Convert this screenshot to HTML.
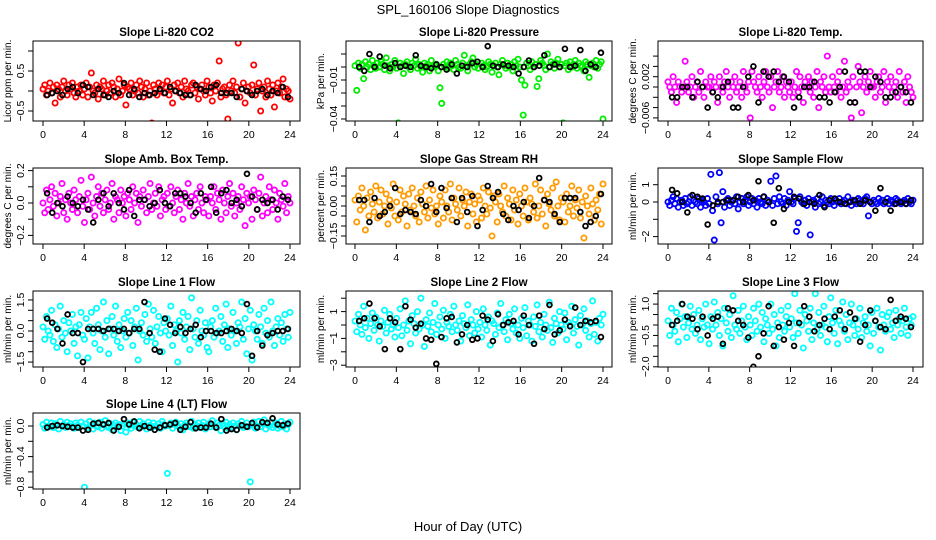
<!DOCTYPE html>
<html><head><meta charset="utf-8"><style>
html,body{margin:0;padding:0;background:#fff;}
svg{display:block;font-family:"Liberation Sans",sans-serif;}
</style></head><body>
<svg id="chart" width="936" height="540" viewBox="0 0 936 540" xmlns="http://www.w3.org/2000/svg">
<rect x="0" y="0" width="936" height="540" fill="#fff"/>
<text x="468" y="14" text-anchor="middle" font-size="13">SPL_160106  Slope Diagnostics</text>
<text x="468" y="531" text-anchor="middle" font-size="13">Hour of Day (UTC)</text>
</svg>
<script>
const xTicks = [0,4,8,12,16,20,24];
const co2Values = [1,3,-2,0,4,-1,2,-6,3,1,-3,2,5,0,-2,3,1,4,-1,-3,2,0,3,-2,
1,4,-3,2,9,0,-1,3,-4,2,1,5,-2,0,3,-1,4,2,-3,1,6,-2,0,3,
-7,2,1,4,-2,0,3,-1,5,2,-3,1,4,-2,0,-16,3,1,-2,4,0,3,-1,2,
5,-2,1,-6,3,0,4,-1,2,-3,5,1,0,-2,3,4,-1,2,-4,1,3,0,-2,5,
2,-1,-5,3,0,4,15,-3,1,2,-2,-14,3,0,5,-1,2,24,-3,1,4,-6,0,2,
-1,3,13,-2,1,4,-10,0,2,-3,5,1,-2,3,-8,0,4,-1,2,6,-3,1,0,-4];
const co2Black = [-2,-1,0,-2,1,2,-1,3,2,-2,1,-2,-3,0,-1,4,-2,1,-3,-1,-2,-1,1,-1,2,0,-1,-2,-2,3,1,0,2,3,-1,-1,-1,-3,1,0,-2,0,1,-2,0,-1,2,-3];
const presValues = [1,-18,3,-1,2,-9,4,0,2,-2,5,1,-1,3,0,4,2,-2,7,1,-3,2,0,5,
-1,-43,3,1,-5,2,4,0,-2,3,1,6,-1,2,0,-4,3,1,2,-3,5,0,1,2,
-3,-16,-28,2,0,4,-1,3,1,-2,5,2,0,-1,3,9,1,-3,2,4,7,0,2,-1,
-47,3,1,-2,0,4,2,-4,1,3,0,-6,2,5,1,-1,3,0,2,-3,4,1,6,0,
-10,-37,-14,3,1,-2,4,0,2,-15,-9,5,3,1,-2,10,0,4,2,-1,3,6,0,2,
-43,1,3,-2,4,0,2,5,-1,3,1,0,-3,4,2,-8,1,3,0,5,-1,2,4,-40];
const presBlack = [0,-3,10,0,8,1,-1,3,0,1,0,9,1,0,-1,2,0,-2,2,-5,1,0,3,4,0,16,1,0,2,1,0,-5,0,5,0,1,9,0,2,0,14,0,1,13,-3,2,0,11];
const tempValues = [1,0,-1,2,0,-3,1,0,-1,0,5,1,-1,0,2,-2,0,1,-1,3,0,-2,1,0,
0,2,-1,1,0,-3,2,0,-1,1,3,0,-2,1,0,2,-1,0,1,-2,3,0,-1,1,
-6,3,1,0,-1,2,0,-2,1,3,0,-1,2,-4,0,1,3,-1,0,2,-2,1,0,-1,
1,-2,0,3,-1,2,0,-3,1,0,2,-1,1,-2,0,3,-4,1,0,2,-1,6,0,-1,
2,0,-1,1,3,-2,0,5,-1,1,0,-6,2,-3,0,4,1,-5,0,2,-1,1,3,0,
0,-2,1,2,-1,0,3,-3,1,0,2,-1,0,1,-2,3,0,-1,1,-3,2,0,-1,-2];
const tempBlack = [-2,-2,0,0,-2,1,0,-4,-1,-2,0,1,-4,-4,0,2,4,-3,3,2,3,1,2,1,-4,-2,0,0,1,-2,-2,-3,-1,0,3,-3,-3,3,3,0,2,1,-2,-2,-1,0,-1,-3];
const ambValues = [0,-3,4,-2,1,5,-1,3,-4,0,2,6,-3,1,-5,3,0,-2,4,1,-3,2,7,-1,
-6,1,3,-2,8,0,-4,2,5,-1,3,-3,1,4,-2,0,6,-5,2,1,-3,4,0,2,
-4,3,1,-2,5,0,3,-6,2,-1,4,1,-3,2,6,-2,0,3,-1,5,-4,1,2,-2,
3,-1,5,0,-3,2,4,-2,1,-5,3,0,6,-1,2,-4,1,3,-2,5,0,-3,2,1,
-4,2,0,5,-2,3,1,-5,4,0,-3,2,6,-1,3,-4,0,2,-2,5,1,-7,3,0,
2,-5,4,1,-2,3,8,-4,0,2,-3,5,1,-2,4,0,-5,3,1,-1,6,-3,2,0];
const ambBlack = [3,-3,0,-1,2,0,-1,1,-2,-6,1,3,-1,3,0,-2,4,-4,1,1,-1,0,4,0,-1,3,3,2,0,-3,3,1,5,-3,3,4,0,1,-1,9,2,-2,1,0,1,-2,2,1];
const rhValues = [3,-8,5,-2,9,0,-12,4,-5,7,1,-3,10,-6,2,8,-4,0,6,-9,3,-1,11,-5,
2,-7,8,-3,5,1,-10,6,-2,9,0,-5,4,-8,7,1,-3,10,-6,3,-1,8,-4,0,
-9,5,2,-6,8,0,-3,11,-7,4,1,-2,9,-5,3,0,7,-10,2,6,-4,1,-8,5,
3,-6,9,0,-4,7,-1,-15,5,2,-8,6,0,-3,10,-5,4,1,-7,8,-2,3,-9,6,
0,-5,9,2,-7,4,1,-3,11,-6,0,8,-4,3,-10,6,1,-2,9,-5,12,0,-7,4,
2,-8,6,-3,0,10,-5,3,-1,8,-6,2,-16,5,0,-4,9,1,-7,3,-2,6,-9,11];
const rhBlack = [3,3,-8,4,-5,-3,0,9,-4,-2,-3,-4,3,0,11,-3,9,-1,4,-8,4,-3,5,-10,-2,10,4,7,-4,-7,0,-2,2,-6,0,14,3,2,-4,-8,4,4,4,-3,-10,-8,-5,6];
const sampleValues = [0,-2,1,3,-1,2,-3,0,1,-2,2,-1,0,3,-2,1,0,-1,2,-3,1,0,-2,2,
-1,16,-5,-22,3,-1,17,-12,6,-3,1,2,-2,0,1,-1,3,-4,0,2,-1,1,3,-2,
0,2,-1,1,-3,2,0,-1,3,-2,1,0,12,-2,2,15,-1,3,0,-1,2,-2,1,6,
0,-1,2,-17,-12,3,0,-1,1,-2,2,-19,0,1,-3,2,-1,0,3,-2,1,0,-1,2,
0,-2,1,0,2,-1,0,1,-1,3,0,-2,1,0,-1,2,1,0,-1,2,3,-8,0,-1,
1,0,-1,2,0,1,-1,0,2,-1,1,0,-1,2,1,0,-1,0,1,-1,2,0,-1,1];
const sampleBlack = [7,5,0,-6,4,3,2,-13,-2,0,0,1,1,3,0,4,1,12,3,0,-12,8,-4,0,3,2,-1,0,-1,4,-3,1,2,0,-1,0,1,-1,1,0,-5,8,0,-5,-1,0,-1,1];
const line1Values = [2,-4,7,0,-2,10,-5,3,-8,1,12,-3,5,-1,-10,4,0,8,-6,2,-12,3,9,-2,
-4,6,-13,2,9,-1,-6,11,3,-9,0,14,-3,5,-11,1,7,-2,12,-5,3,-8,0,6,
-3,9,-1,5,-7,2,11,-14,0,4,-2,8,-5,13,1,-3,10,-6,2,7,-1,-10,4,0,
6,-2,12,-7,3,0,-15,5,-1,9,-4,2,7,-9,16,1,-3,5,-6,10,0,-2,4,-8,
-10,2,5,-3,11,-1,0,7,-5,3,13,-8,1,-2,9,0,-6,4,2,14,-4,6,-11,1,
10,-14,3,0,-4,8,2,-6,11,-1,5,-3,14,0,-7,2,6,-2,4,-5,8,1,-3,9];
const line1Black = [6,4,1,-6,8,-1,-1,-15,1,1,1,0,1,1,0,1,-1,1,1,14,-1,-9,-10,6,3,-1,2,-1,1,3,-3,0,0,-1,-1,0,1,0,-1,13,-12,0,-7,-2,-1,0,0,1];
const line2Values = [3,-5,8,0,-7,14,-2,5,-10,1,9,-4,6,0,-12,3,-1,11,-6,2,8,-3,0,-9,
5,-2,12,-8,0,18,-4,3,-14,7,1,-6,10,-3,20,0,-16,4,-1,9,-5,2,16,-7,
0,6,-3,11,-10,2,-1,8,-5,14,0,-4,3,-12,7,1,-2,15,-8,4,0,-6,10,-3,
2,-9,12,0,-4,6,-15,3,1,-7,9,-2,16,0,-5,4,-11,8,1,-3,12,-6,0,-10,
5,-2,13,-8,3,0,-12,6,-1,15,-5,2,-9,8,0,-4,17,-2,-13,5,1,-6,10,0,
-3,9,-11,2,0,14,-6,4,-1,-15,7,0,12,-4,3,-9,1,18,-7,2,-12,5,0,8];
const line2Black = [3,5,16,5,-1,-18,5,2,-18,14,4,-2,1,-10,-11,-29,-9,5,6,-13,-7,0,-11,-10,7,4,-12,8,0,2,3,-7,7,0,-14,7,-3,15,-7,-4,4,-1,13,0,3,2,3,-9];
const line3Values = [2,-5,8,0,-3,6,-8,3,10,-1,4,-6,1,9,-2,5,-4,0,7,-7,3,-1,10,0,
-9,4,-2,11,0,6,-5,3,-10,8,1,-3,5,-6,14,0,-2,7,-4,2,9,-1,-7,4,
0,-5,8,2,-3,10,-1,6,-8,3,0,-4,10,-2,5,-10,1,-6,7,0,-3,4,9,-1,
3,-6,15,1,-4,7,0,-11,5,2,-3,8,-7,1,15,-2,6,-5,0,9,-1,-8,4,13,
1,-4,7,-9,2,0,11,-3,5,-7,1,10,0,-5,3,-2,8,-6,1,4,-3,0,-10,6,
-4,2,8,-1,-12,5,0,-3,4,6,-2,1,-6,7,0,3,-4,2,8,-1,-5,3,0,4];
const line3Black = [0,2,10,4,3,-2,4,-5,3,4,-9,8,7,2,0,-6,-20,-15,-4,9,-10,-1,-7,1,-10,1,9,4,-3,0,3,-2,4,7,-2,6,3,-8,0,7,2,-1,-2,12,2,4,3,-1];
const line4Values = [2,-3,5,0,-1,4,-2,3,1,-4,6,0,2,-2,5,-1,3,0,-3,4,1,-2,5,0,
-80,3,-2,6,1,-4,4,0,-1,5,-3,2,7,0,-2,3,-5,1,4,-1,2,-6,0,3,
-8,4,1,-3,5,0,2,-2,6,-1,3,0,-4,5,1,-2,4,0,-1,3,-3,6,2,0,
-62,1,4,-3,2,5,0,-2,3,-5,1,4,0,-1,6,-3,2,0,4,-2,1,5,-4,0,
3,-1,7,0,-2,4,1,-6,3,0,5,-3,2,-1,4,0,-5,3,1,6,-2,0,4,-1,
-73,2,5,-3,0,6,-1,3,8,-4,2,0,5,-2,1,4,-3,0,6,-1,3,-4,2,5];
const line4Black = [-2,0,1,0,-1,-2,-2,-6,-5,3,4,2,4,-6,-1,9,2,6,-3,0,-2,-5,-2,1,2,4,-5,-1,5,-3,-2,-2,3,-2,9,-6,-4,-5,1,-1,4,-2,5,4,10,2,1,3];

const panels = [
 {name:'co2',title:'Slope Li-820 CO2',ylab:'Licor ppm per min.',col:0,row:0,vals:co2Values,blk:co2Black,unit:0.05,color:'#ff0000',y0:91,s:40,ticks:[-0.5,0,0.5,1.0],labels:{'-0.5':'−0.5','0.5':'0.5'}},
 {name:'pressure',title:'Slope Li-820 Pressure',ylab:'kPa per min.',col:1,row:0,vals:presValues,blk:presBlack,unit:0.001,color:'#00ee00',y0:67,s:1300,ticks:[0.01,0,-0.01,-0.02,-0.03,-0.04],labels:{'-0.01':'−0.01','-0.04':'−0.04'}},
 {name:'li820-temp',title:'Slope Li-820 Temp.',ylab:'degrees C per min.',col:2,row:0,vals:tempValues,blk:tempBlack,unit:0.001,color:'#ff00ff',y0:87,s:5150,ticks:[0.006,0.004,0.002,0,-0.002,-0.004,-0.006],labels:{'0.002':'0.002','-0.006':'−0.006'}},
 {name:'amb-box-temp',title:'Slope Amb. Box Temp.',ylab:'degrees C per min.',col:0,row:1,vals:ambValues,blk:ambBlack,unit:0.02,color:'#ff00ff',y0:203,s:162,ticks:[0.2,0.1,0,-0.1,-0.2],labels:{'0.2':'0.2','0':'0.0','-0.2':'−0.2'}},
 {name:'gas-stream-rh',title:'Slope Gas Stream RH',ylab:'percent per min.',col:1,row:1,vals:rhValues,blk:rhBlack,unit:0.01,color:'#ff9a00',y0:206,s:200,ticks:[0.15,0.1,0.05,0,-0.05,-0.1,-0.15],labels:{'0.15':'0.15','0':'0.00','-0.15':'−0.15'}},
 {name:'sample-flow',title:'Slope Sample Flow',ylab:'ml/min per min.',col:2,row:1,vals:sampleValues,blk:sampleBlack,unit:0.1,color:'#0000ff',y0:202,s:17.3,ticks:[1,0,-1,-2],labels:{'1':'1','0':'0','-2':'−2'}},
 {name:'line1-flow',title:'Slope Line 1 Flow',ylab:'ml/min per min.',col:0,row:2,vals:line1Values,blk:line1Black,unit:0.1,color:'#00ffff',y0:331,s:20.7,ticks:[1.5,1,0.5,0,-0.5,-1,-1.5],labels:{'1.5':'1.5','0':'0.0','-1.5':'−1.5'}},
 {name:'line2-flow',title:'Slope Line 2 Flow',ylab:'ml/min per min.',col:1,row:2,vals:line2Values,blk:line2Black,unit:0.1,color:'#00ffff',y0:325,s:13.4,ticks:[2,1,0,-1,-2,-3],labels:{'1':'1','-1':'−1','-3':'−3'}},
 {name:'line3-flow',title:'Slope Line 3 Flow',ylab:'ml/min per min.',col:2,row:2,vals:line3Values,blk:line3Black,unit:0.1,color:'#00ffff',y0:325,s:20.9,ticks:[1.5,1,0.5,0,-0.5,-1,-1.5,-2],labels:{'1':'1.0','-0.5':'−0.5','-2':'−2.0'}},
 {name:'line4-flow',title:'Slope Line 4 (LT) Flow',ylab:'ml/min per min.',col:0,row:3,vals:line4Values,blk:line4Black,unit:0.01,color:'#00ffff',y0:426,s:76.5,ticks:[0,-0.2,-0.4,-0.6,-0.8],labels:{'0':'0.0','-0.4':'−0.4','-0.8':'−0.8'}}
];
const colL=[33,346,658], colR=[300,612,923], colX0=[43,355,668], colX24=[290,603,913];
const rowT=[41,168,291,413], rowB=[121,244,367,489];
const NS='http://www.w3.org/2000/svg';
const svg=document.getElementById('chart');
function mk(tag,attrs,parent){const e=document.createElementNS(NS,tag);for(const k in attrs)e.setAttribute(k,attrs[k]);(parent||svg).appendChild(e);return e;}

panels.forEach(p=>{
  const L=colL[p.col],R=colR[p.col],T=rowT[p.row],B=rowB[p.row];
  const xs=h=>colX0[p.col]+(colX24[p.col]-colX0[p.col])*h/24;
  const ys=v=>p.y0-v*p.s;
  const g=mk('g',{});
  
  
  const t=mk('text',{x:(L+R)/2,y:T-5,'text-anchor':'middle','font-size':'11.5','font-weight':'bold'},g);
  t.textContent=p.title;
  
  
  const yl=mk('text',{x:0,y:0,'text-anchor':'middle','font-size':'10',transform:`translate(${L-22},${(T+B)/2}) rotate(-90)`},g);
  yl.textContent=p.ylab;
  
  
  const cp=mk('clipPath',{id:'clip-'+p.name},g);
  mk('rect',{x:L,y:T,width:R-L,height:B-T},cp);
  const pts=mk('g',{'clip-path':`url(#clip-${p.name})`},g);
  
  
  const n=p.vals.length;
  p.vals.forEach((v,i)=>{
    const c=mk('circle',{cx:xs(i*24/(n-1)),cy:ys(v*p.unit),r:2.6,fill:'none',stroke:p.color,'stroke-width':1.8},pts);
    
    
  });
  const m=p.blk.length;
  p.blk.forEach((v,i)=>{
    const c=mk('circle',{cx:xs(0.4+i*23.4/(m-1)),cy:ys(v*p.unit),r:2.4,fill:'none',stroke:'#000','stroke-width':1.8},pts);
    
    
  });
  const box=mk('rect',{x:L,y:T,width:R-L,height:B-T,fill:'none',stroke:'#000','stroke-width':1},g);
  
  
  mk('line',{x1:xs(0),x2:xs(24),y1:B,y2:B,stroke:'#000'},g);
  xTicks.forEach(h=>{
    mk('line',{x1:xs(h),x2:xs(h),y1:B,y2:B+5,stroke:'#000'},g);
    const tl=mk('text',{x:xs(h),y:B+17,'text-anchor':'middle','font-size':'10.5'},g);
    tl.textContent=h;
    
    
  });
  const tv=p.ticks;
  mk('line',{x1:L,x2:L,y1:ys(tv[0]),y2:ys(tv[tv.length-1]),stroke:'#000'},g);
  tv.forEach(v=>{
    const y=ys(v);
    mk('line',{x1:L-5,x2:L,y1:y,y2:y,stroke:'#000'},g);
    const key=String(v);
    if(p.labels[key]!==undefined){
      const tl=mk('text',{x:0,y:0,'text-anchor':'middle','font-size':'10.5',transform:`translate(${L-9},${y}) rotate(-90)`},g);
      tl.textContent=p.labels[key];
      
      
    }
  });
});
</script>
</body></html>
